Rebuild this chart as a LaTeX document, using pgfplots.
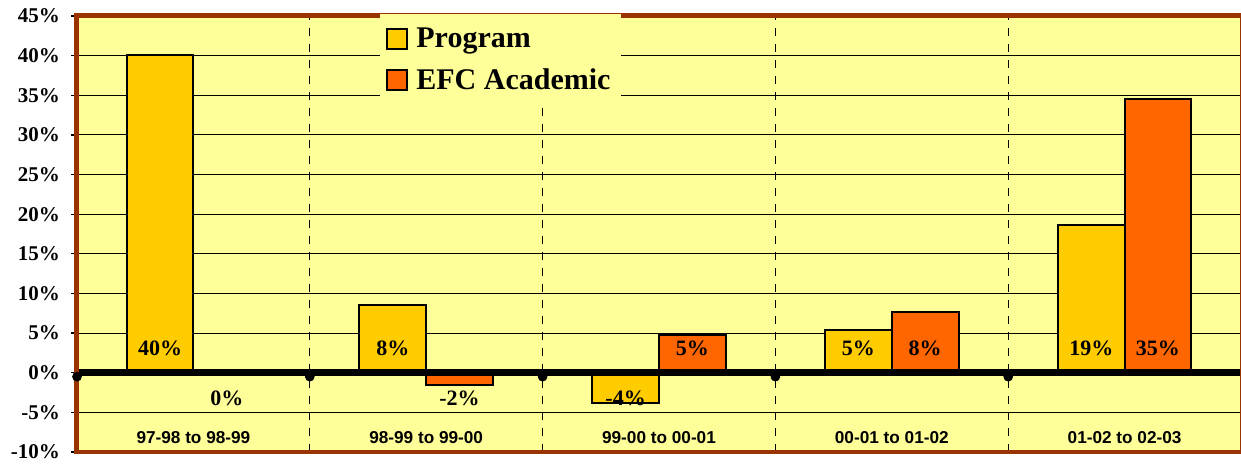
\documentclass[border=0pt]{standalone}
\usepackage{fontspec}
\setmainfont{Liberation Serif}
\newfontfamily\arialfont{Liberation Sans}
\usepackage{pgfplots}
\pgfplotsset{compat=1.18}
\definecolor{bg}{HTML}{FFFF99}
\definecolor{prog}{HTML}{FFCC00}
\definecolor{efc}{HTML}{FF6600}
\definecolor{brd}{HTML}{993300}
\begin{document}
\begin{tikzpicture}
\begin{axis}[
  scale only axis, width=582pt, height=218pt,
  xmin=-0.5, xmax=4.5, ymin=-10, ymax=45,
  ytick={-10,-5,...,45},
  xtick={0,1,2,3,4},
  xticklabels={97-98 to 98-99, 98-99 to 99-00, 99-00 to 00-01, 00-01 to 01-02, 01-02 to 02-03},
  minor xtick={0.5,1.5,2.5,3.5},
  xminorgrids, ymajorgrids,
  grid style={black, line width=0.5pt},
  minor grid style={black, line width=0.5pt, dash pattern=on 4pt off 4pt},
  axis line style={draw=none},
  axis background/.style={fill=bg},
  tick align=outside, major tick length=3pt, minor tick length=0pt,
  xtick style={draw=none},
  ytick style={black, line width=0.6pt},
  /pgf/number format/assume math mode=true,
  yticklabel={\pgfmathprintnumber{\tick}\%},
  yticklabel style={font=\bfseries\fontsize{10.5}{12}\selectfont, xshift=-2pt},
  xticklabel style={font=\arialfont\bfseries\fontsize{8.6}{10}\selectfont, anchor=base, yshift=7.3pt},
  legend style={at={(rel axis cs:0.2603,1.006)}, anchor=north west, fill=bg, draw=none,
    font=\bfseries\fontsize{15}{18}\selectfont, inner xsep=3pt, inner ysep=5pt,
    row sep=5pt, cells={anchor=west}},
  clip=false,
]
\addplot[ybar, bar width=0.2865, bar shift=-0.1433, fill=prog, draw=black, line width=1pt,
  legend image code/.code={\draw[fill=prog, draw=black, line width=1pt] (0pt,-5pt) rectangle (10pt,5pt); \path (12pt,0pt);}]
  coordinates {(0,40.1) (1,8.5) (2,-3.8) (3,5.4) (4,18.6)};
\addlegendentry{Program}
\addplot[ybar, bar width=0.2865, bar shift=0.1433, fill=efc, draw=black, line width=1pt,
  legend image code/.code={\draw[fill=efc, draw=black, line width=1pt] (0pt,-5pt) rectangle (10pt,5pt); \path (12pt,0pt);}]
  coordinates {(0,0) (1,-1.6) (2,4.8) (3,7.7) (4,34.5)};
\addlegendentry{EFC Academic}
% zero axis line
\draw[black, line width=3.3pt] (axis cs:-0.5,0) -- (axis cs:4.5,0);
\addplot[forget plot, only marks, mark=*, mark size=2.2pt, black] coordinates {(-0.5,-0.5) (0.5,-0.5) (1.5,-0.5) (2.5,-0.5) (3.5,-0.5)};
% value labels
\addplot[forget plot, draw=none, mark=none, point meta=explicit symbolic,
  nodes near coords={\pgfplotspointmeta\%},
  every node near coord/.append style={anchor=center, font=\bfseries\fontsize{11}{13}\selectfont, text=black}]
  table[meta=label] {
x y label
-0.1433 3.1 40
0.8567 3.1 8
1.8567 -3.2 -4
2.8567 3.1 5
3.8567 3.1 19
0.1433 -3.2 0
1.1433 -3.2 -2
2.1433 3.1 5
3.1433 3.1 8
4.1433 3.1 35
};
% borders
\draw[brd, line width=0.6pt] (rel axis cs:1,0) -- (rel axis cs:1,1);
\draw[brd, line width=2pt] (rel axis cs:0,0) -- (rel axis cs:1,0);
\draw[brd, line width=2.5pt] (rel axis cs:0,-0.004) -- (rel axis cs:0,1) -- (rel axis cs:1,1);
\coordinate (bl) at (rel axis cs:0,0);
\coordinate (tr) at (rel axis cs:1,1);
\end{axis}
\pgfresetboundingbox
\path ([shift={(-38.5pt,-6pt)}]bl) rectangle ([shift={(0pt,8pt)}]tr);
\end{tikzpicture}
\end{document}
